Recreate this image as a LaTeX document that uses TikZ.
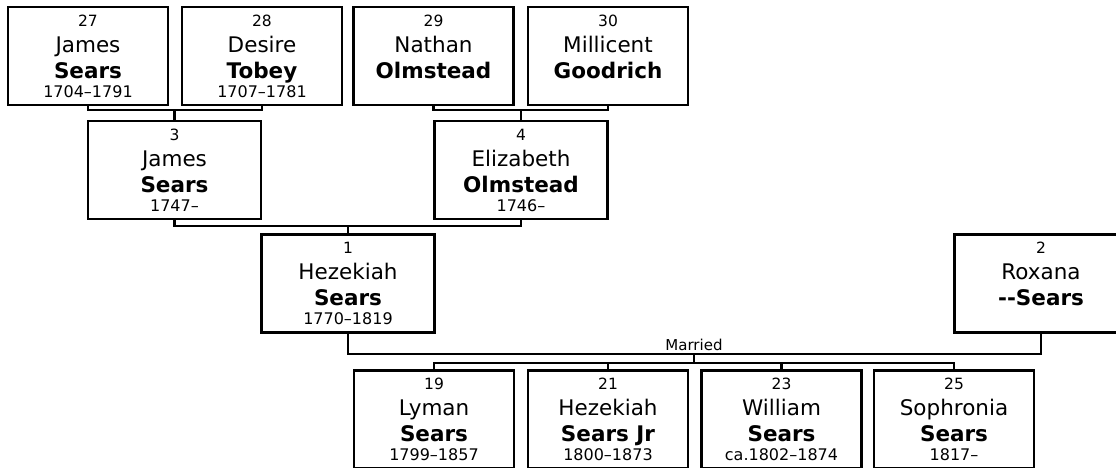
\documentclass[tikz,border=0pt]{standalone}
\usepackage{fontspec}
\setmainfont{DejaVu Sans}
\tikzstyle{pbox}=[rectangle, draw, line width=2.2pt, minimum width=160pt, minimum height=98pt, inner sep=0pt, align=center]
\tikzstyle{wbox}=[pbox, minimum width=173pt]
\tikzstyle{link}=[line width=2.2pt]
\newcommand{\gnum}[1]{{\fontsize{15.5}{16}\selectfont #1}}
\newcommand{\gyrs}[1]{{\fontsize{16}{16}\selectfont #1}}

\begin{document}
\begin{tikzpicture}[x=1pt, y=-1pt, font=\fontsize{21.5}{26}\selectfont]
\useasboundingbox (0,0) rectangle (1116,468);
\clip (0,0) rectangle (1116,468);

\node[pbox] (p27) at (88,56) {\gnum{27}\\James\\\textbf{Sears}\\[-7pt]\gyrs{1704–1791}};
\node[pbox] (p28) at (262,56) {\gnum{28}\\Desire\\\textbf{Tobey}\\[-7pt]\gyrs{1707–1781}};
\node[pbox] (p29) at (433.5,56) {\gnum{29}\\Nathan\\\textbf{Olmstead}\\[-7pt]\vphantom{0}};
\node[pbox] (p30) at (608,56) {\gnum{30}\\Millicent\\\textbf{Goodrich}\\[-7pt]\vphantom{0}};

\node[wbox] (p3) at (174.5,170) {\gnum{3}\\James\\\textbf{Sears}\\[-7pt]\gyrs{1747–}};
\node[wbox] (p4) at (521,170) {\gnum{4}\\Elizabeth\\\textbf{Olmstead}\\[-7pt]\gyrs{1746–}};

\node[wbox] (p1) at (348,283.5) {\gnum{1}\\Hezekiah\\\textbf{Sears}\\[-7pt]\gyrs{1770–1819}};
\node[wbox] (p2) at (1041,283.5) {\gnum{2}\\Roxana\\\textbf{-{}-Sears}\\[-7pt]\vphantom{0}};

\node[pbox] (p19) at (434,419.5) {\gnum{19}\\Lyman\\\textbf{Sears}\\[-7pt]\gyrs{1799–1857}};
\node[pbox] (p21) at (608,419.5) {\gnum{21}\\Hezekiah\\\textbf{Sears Jr}\\[-7pt]\gyrs{1800–1873}};
\node[pbox] (p23) at (781.5,419.5) {\gnum{23}\\William\\\textbf{Sears}\\[-7pt]\gyrs{ca.1802–1874}};
\node[pbox] (p25) at (954,419.5) {\gnum{25}\\Sophronia\\\textbf{Sears}\\[-7pt]\gyrs{1817–}};

\coordinate (j3) at (174.5,110);
\coordinate (j4) at (521,110);
\coordinate (j1) at (348,226);
\coordinate (j12) at (694,354);
\coordinate (jc) at (694,363);

\draw[link] (p27.south) |- (j3) -| (p28.south);
\draw[link] (j3) -- (p3.north);
\draw[link] (p29.south) |- (j4) -| (p30.south);
\draw[link] (j4) -- (p4.north);
\draw[link] (p3.south) |- (j1) -| (p4.south);
\draw[link] (j1) -- (p1.north);
\draw[link] (p1.south) |- (j12) -| (p2.south);
\node[above, inner sep=3pt, font=\fontsize{15}{16}\selectfont] (mlab) at (j12) {Married};
\draw[link] (j12) -- (jc);
\draw[link] (p19.north) |- (jc) -| (p25.north);
\draw[link] (p21.north) -- (p21.north |- jc);
\draw[link] (p23.north) -- (p23.north |- jc);

\end{tikzpicture}
\end{document}
